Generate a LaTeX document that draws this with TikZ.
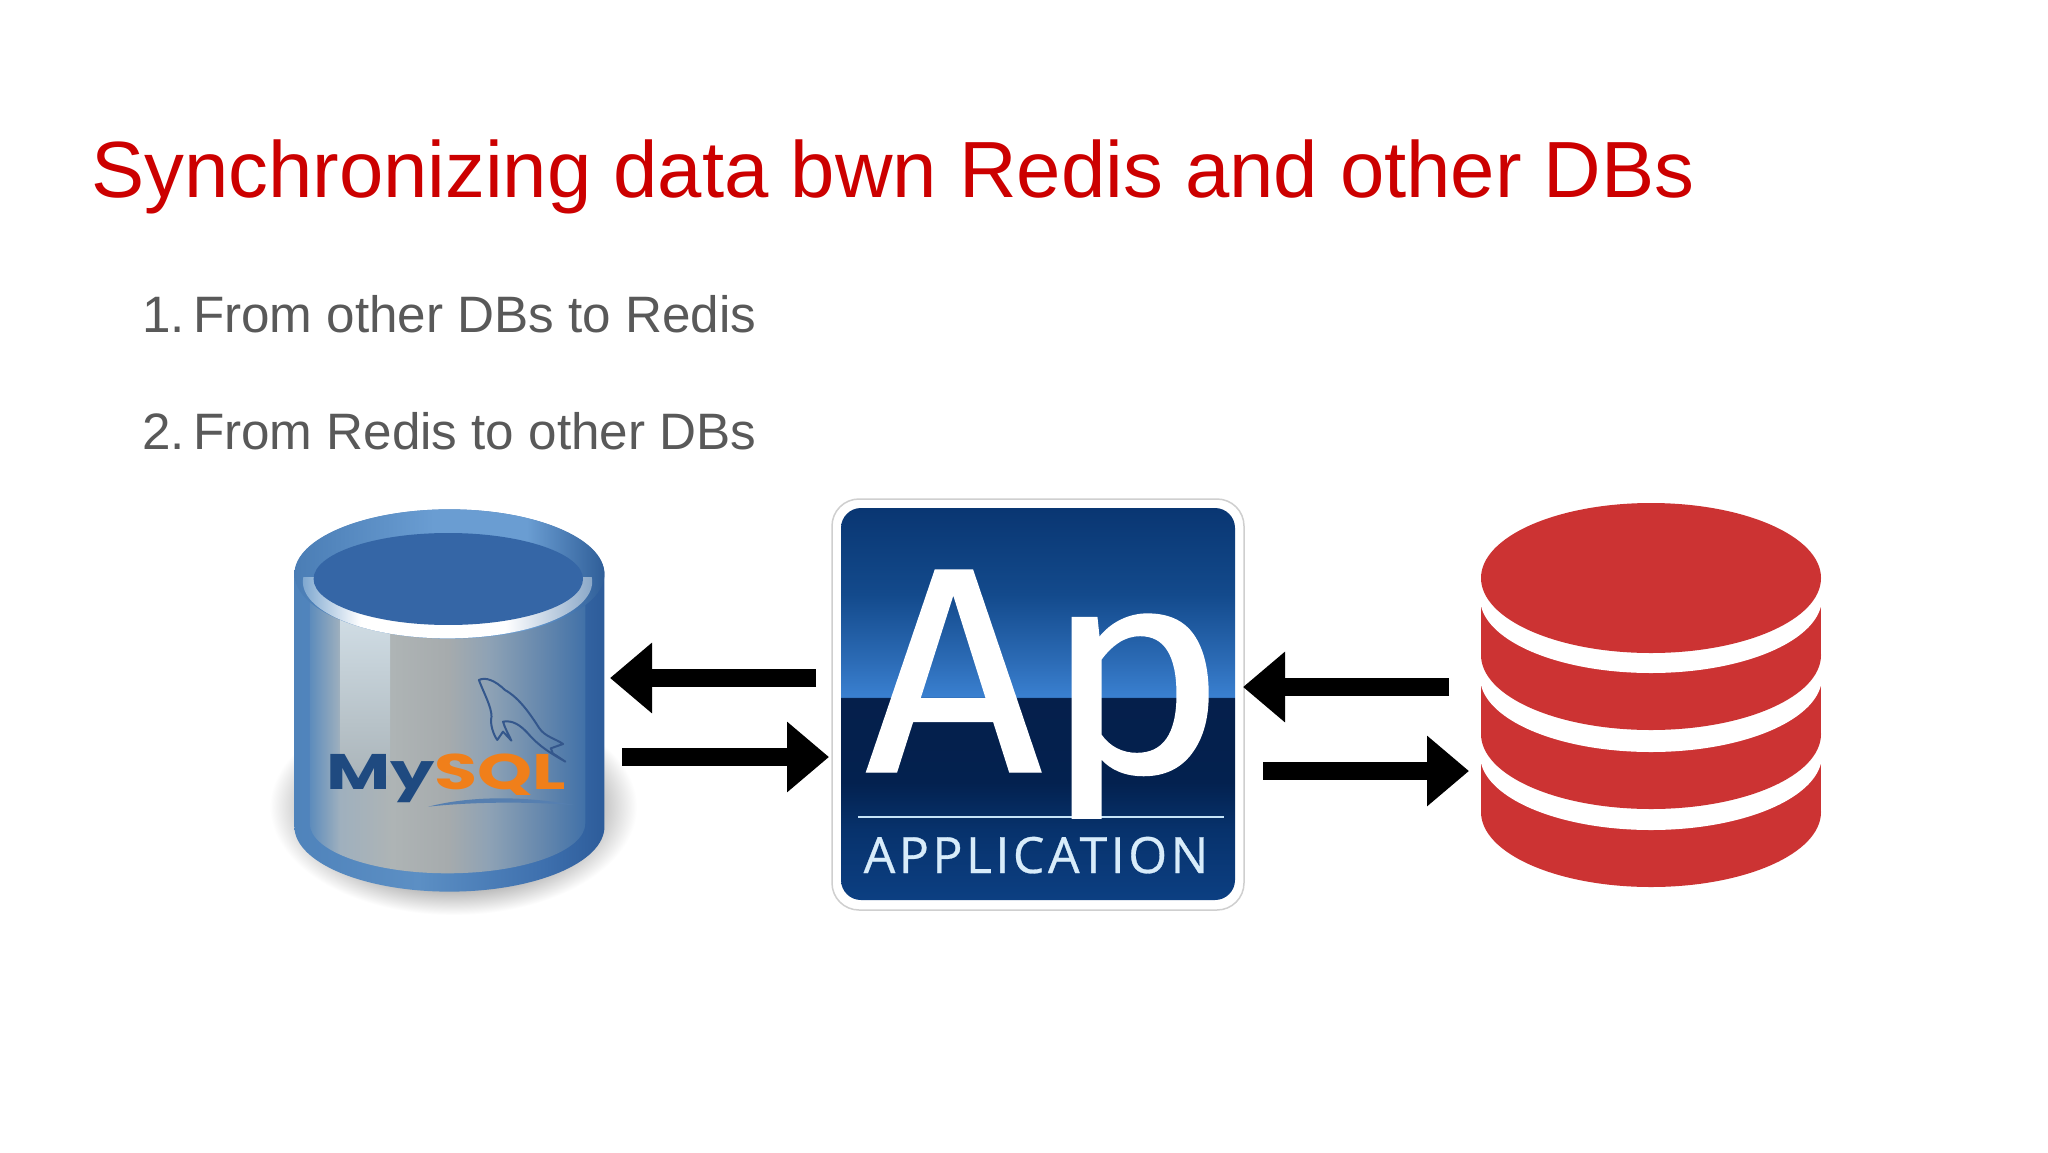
\documentclass[tikz,border=0pt]{standalone}
\usepackage{fontspec}
\setmainfont{Liberation Sans}
\newfontfamily\apfont{Open Sans}
\newfontfamily\aplogofont{Fira Sans}
\newfontfamily\logofont{Poppins}
\usetikzlibrary{arrows.meta}
\definecolor{titlered}{HTML}{CC0000}
\definecolor{bodygrey}{HTML}{595959}
\definecolor{redisred}{HTML}{CC3333}
\definecolor{sA}{HTML}{0C3F82}\definecolor{sB}{HTML}{07326C}\definecolor{sC}{HTML}{03214F}
\definecolor{sD}{HTML}{051F4B}\definecolor{sE}{HTML}{3A80D0}\definecolor{sF}{HTML}{2A69B3}
\definecolor{sG}{HTML}{134A8C}\definecolor{sH}{HTML}{093672}
% the bounding box of a shaded path covers 25bp to 75bp of the shading
\pgfdeclareverticalshading{appsky}{100bp}{color(0bp)=(sA);color(25bp)=(sA);color(34bp)=(sB);color(40bp)=(sC);color(50.8bp)=(sD);color(50.9bp)=(sE);color(56bp)=(sF);color(64bp)=(sG);color(75bp)=(sH);color(100bp)=(sH)}
\definecolor{pA}{HTML}{5D8CBC}\definecolor{pB}{HTML}{9FB0BE}\definecolor{pC}{HTML}{AEB4B5}
\definecolor{pD}{HTML}{A6ABAD}\definecolor{pE}{HTML}{8EA2B5}\definecolor{pF}{HTML}{6487AD}\definecolor{pG}{HTML}{4171A8}
\pgfdeclarehorizontalshading{canpanel}{100bp}{color(0bp)=(pA);color(25bp)=(pA);color(30.5bp)=(pB);color(40bp)=(pC);color(50bp)=(pD);color(57.5bp)=(pE);color(67.5bp)=(pF);color(75bp)=(pG);color(100bp)=(pG)}
\definecolor{oA}{HTML}{4F83BB}\definecolor{oB}{HTML}{5C8FC4}\definecolor{oC}{HTML}{3E70AE}\definecolor{oD}{HTML}{2D5C9A}
\pgfdeclarehorizontalshading{canouter}{100bp}{color(0bp)=(oA);color(25bp)=(oA);color(45bp)=(oB);color(65bp)=(oC);color(75bp)=(oD);color(100bp)=(oD)}
\definecolor{tA}{HTML}{4A7DB5}\definecolor{tB}{HTML}{6A9DD2}\definecolor{tC}{HTML}{2F5E98}
\pgfdeclarehorizontalshading{cantop}{100bp}{color(0bp)=(tA);color(25bp)=(tA);color(47.5bp)=(tB);color(62.5bp)=(tB);color(75bp)=(tC);color(100bp)=(tC)}
\definecolor{rA}{HTML}{7FA8D0}\definecolor{rB}{HTML}{8AA8C8}
\pgfdeclarehorizontalshading{canrim}{100bp}{color(0bp)=(rA);color(25bp)=(rA);color(35bp)=(white);color(60bp)=(white);color(75bp)=(rB);color(100bp)=(rB)}
\definecolor{shA}{HTML}{A8A8A8}
\pgfdeclareradialshading{canshadow}{\pgfpoint{0bp}{0bp}}{color(0bp)=(shA);color(18bp)=(shA);color(25bp)=(white);color(50bp)=(white)}
\definecolor{caninner}{HTML}{3566A6}
\definecolor{highA}{HTML}{D0DDE5}\definecolor{highB}{HTML}{ABB5BA}
\definecolor{mylogo}{HTML}{1F4A80}\definecolor{sqllogo}{HTML}{F07F1A}
\definecolor{dolphin}{HTML}{34578C}\definecolor{appline}{HTML}{C6E4F8}\definecolor{apptext}{HTML}{D8ECFA}
\definecolor{appborder}{HTML}{CFCFCF}
\tikzset{
  hub/.style={inner sep=0pt,outer sep=0pt,draw=none,fill=none},
  label/.style={inner sep=0pt,outer sep=0pt,anchor=base west},
  titletext/.style={label,text=titlered,font=\fontsize{79.7}{79.7}\selectfont},
  itemtext/.style={label,text=bodygrey,font=\fontsize{51.2}{51.2}\selectfont},
  bigarrow/.style={line width=18pt,-{Triangle[length=42pt,width=68pt]},black},
  redband/.style={fill=redisred,draw=none},
  gapband/.style={fill=white,draw=none},
}
\begin{document}
\begin{tikzpicture}[x=1pt,y=-1pt]
\useasboundingbox (0,0) rectangle (2048,1152);
\fill[white] (0,0) rectangle (2048,1152);

% texts
\node[titletext] (title) at (91,197) {Synchronizing data bwn Redis and other DBs};
\node[itemtext] (num1) at (142,332) {1.};
\node[itemtext] (item1) at (193,332) {From other DBs to Redis};
\node[itemtext] (num2) at (142,449) {2.};
\node[itemtext] (item2) at (193,449) {From Redis to other DBs};

% MySQL cylinder, in the coordinates of the crop
\begin{scope}[shift={(260,490)},xscale=0.3827,yscale=0.3333]
  \shade[shading=canshadow] (505,950) ellipse [x radius=480,y radius=325];
  \shade[shading=canouter] (90,255) arc[start angle=180,end angle=360,x radius=405,y radius=197]
     -- (900,1010) arc[start angle=0,end angle=180,x radius=405,y radius=195] -- cycle;
  \shade[shading=canpanel] (130,300) -- (850,300) -- (850,1000)
     arc[start angle=0,end angle=180,x radius=360,y radius=150] -- cycle;
  \shade[top color=highA,bottom color=highB] (210,380) -- (340,420) -- (340,860) -- (210,830) -- cycle;
  \shade[shading=cantop] (495,252) ellipse [x radius=405,y radius=194];
  \begin{scope}
    \clip (90,262) rectangle (900,460);
    \shade[shading=canrim] (490,275) ellipse [x radius=378,y radius=170];
  \end{scope}
  \fill[caninner] (492,267) ellipse [x radius=352,y radius=138];
  % dolphin
  \draw[dolphin,line width=2pt,line join=round,fill=none]
     (572,570) .. controls (590,560) and (615,572) .. (640,600)
     .. controls (680,625) and (710,680) .. (730,715)
     .. controls (745,740) and (770,745) .. (792,762)
     -- (760,775) -- (765,790) -- (798,815)
     .. controls (760,790) and (730,770) .. (700,730)
     .. controls (680,705) and (660,690) .. (635,695)
     .. controls (640,715) and (650,735) .. (657,752)
     -- (635,725) -- (620,750)
     .. controls (610,735) and (600,700) .. (605,680)
     .. controls (605,650) and (585,610) .. (572,570) -- cycle;
  % swoosh beneath the logo
  \fill[oC!70!pE] (440,950) .. controls (560,915) and (700,920) .. (820,945)
     .. controls (700,935) and (560,935) .. (440,950) -- cycle;
  \node[inner sep=0pt,anchor=base west,font=\logofont\bfseries\fontsize{50}{50}\selectfont\addfontfeature{FakeStretch=1.4}] (mysqllogo) at (172,900)
     {\textcolor{mylogo}{My}\textcolor{sqllogo}{SQL}};
\end{scope}
\node[hub,minimum width=310pt,minimum height=383pt] (mysql) at (449,700) {};

% Application tile
\fill[white,draw=appborder,line width=1.5pt,rounded corners=27pt] (832,499) rectangle (1244,910);
\shade[shading=appsky,rounded corners=20pt] (841,508) rectangle (1235,900);
\draw[appline,line width=2.5pt] (858,817) -- (1224,817);
\begin{scope}
  \clip (843,508) rectangle (1235,818);
  \node[inner sep=0pt,anchor=base,text=white,font=\aplogofont\fontsize{293}{293}\selectfont\addfontfeature{FakeStretch=1.06,FakeBold=0.5}] (aplogo) at (1046,772) {Ap};
\end{scope}
\node[inner sep=0pt,anchor=base,text=apptext,font=\apfont\fontsize{50}{50}\selectfont\addfontfeature{LetterSpace=7,FakeBold=0.6}] (apptag) at (1036,873) {APPLICATION};
\node[hub,minimum width=412pt,minimum height=411pt] (app) at (1038,704.5) {};

% Redis stack
\fill[redband] (1481,762) rectangle (1821,812);
\fill[redband] (1651,812) ellipse [x radius=170,y radius=75];
\fill[gapband] (1651,755) ellipse [x radius=171,y radius=75];
\fill[redband] (1481,683) rectangle (1821,734);
\fill[redband] (1651,734) ellipse [x radius=170,y radius=75];
\fill[gapband] (1651,677) ellipse [x radius=171,y radius=75];
\fill[redband] (1481,605) rectangle (1821,655);
\fill[redband] (1651,655) ellipse [x radius=170,y radius=75];
\fill[gapband] (1651,598) ellipse [x radius=171,y radius=75];
\fill[redband] (1651,578) ellipse [x radius=170,y radius=75];
\node[hub,minimum width=340pt,minimum height=384pt] (redis) at (1651,695) {};

% connectors
\coordinate (lvlA) at (0,678);
\coordinate (lvlB) at (0,757);
\coordinate (lvlC) at (0,687);
\coordinate (lvlD) at (0,771);
\draw[bigarrow,shorten <=16pt,shorten >=6pt] (app.west |- lvlA) -- (mysql.east |- lvlA);
\draw[bigarrow,shorten <=18pt,shorten >=3pt] (mysql.east |- lvlB) -- (app.west |- lvlB);
\draw[bigarrow,shorten <=32pt,shorten >=-1pt] (redis.west |- lvlC) -- (app.east |- lvlC);
\draw[bigarrow,shorten <=19pt,shorten >=12pt] (app.east |- lvlD) -- (redis.west |- lvlD);
\end{tikzpicture}
\end{document}
